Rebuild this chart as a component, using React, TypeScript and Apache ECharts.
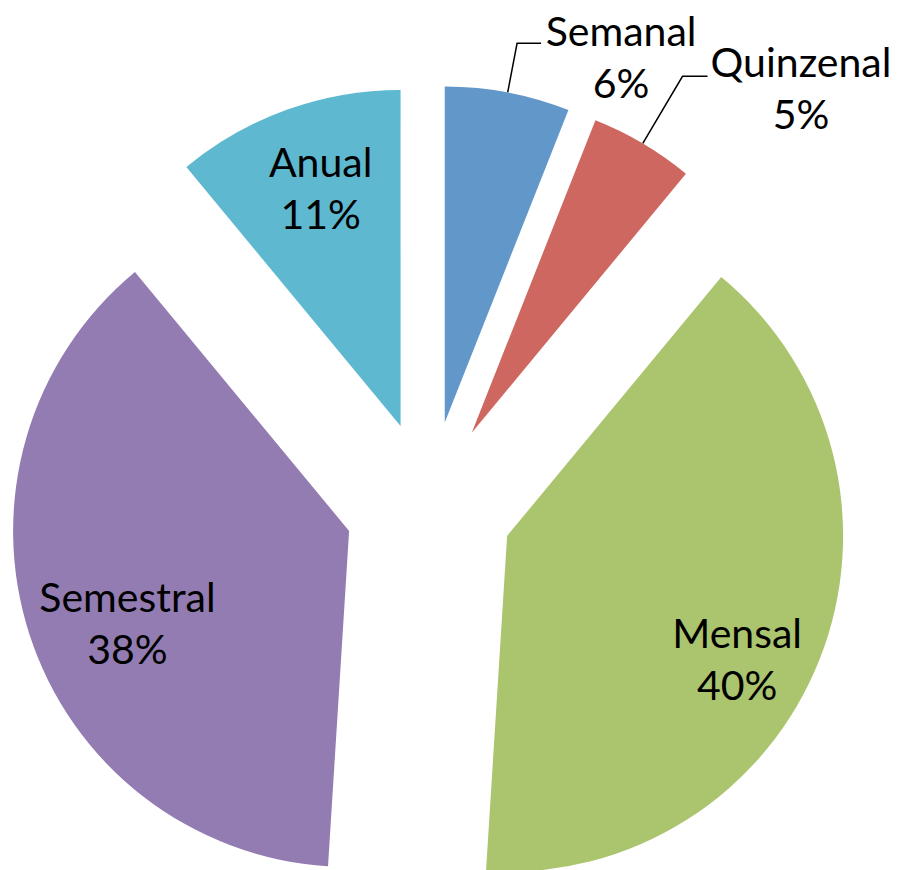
import React, { useEffect, useRef } from "react";
import * as echarts from "echarts";

const categories = ["Semanal", "Quinzenal", "Mensal", "Semestral", "Anual"];
const values = [6, 5, 40, 38, 11];
const colors = ["#6297CA", "#CD6760", "#ABC46E", "#937CB2", "#5DB8D0"];

const FONT = "Lato, 'Open Sans', sans-serif";
const FONT_SIZE = 41;
const LINE_H = 52;

export default function App() {
  const ref = useRef<HTMLDivElement>(null);
  useEffect(() => {
    const chart = echarts.init(ref.current!, null, { renderer: "svg" });
    const outside = [true, true, false, false, false];
    const outsideWidth = [150, 177, 0, 0, 0];
    const lineLen = [[50, 24], [78, 25], [0, 0], [0, 0], [0, 0]];
    const padTop = [26, 22, 0, 0, 0];
    const innerShift = [[0, 0], [0, 0], [71, 60], [-59, 39], [-22, -78]];

    const data = categories.map((name, i) => ({
      name,
      value: values[i],
      selected: true,
      itemStyle: { color: colors[i], borderWidth: 0 },
      label: outside[i]
        ? {
            show: true,
            position: "outside",
            formatter: "{a|{b}}\n{a|{c}%}",
            padding: [padTop[i], 0, 0, 0],
            rich: {
              a: {
                width: outsideWidth[i],
                align: "center",
                fontSize: FONT_SIZE,
                lineHeight: LINE_H,
                fontFamily: FONT,
                color: "#000",
              },
            },
          }
        : {
            show: true,
            position: "inside",
            formatter: "{b}\n{c}%",
            fontSize: FONT_SIZE,
            lineHeight: LINE_H,
            fontFamily: FONT,
            color: "#000",
            align: "center",
          },
      labelLine: outside[i]
        ? {
            show: true,
            length: lineLen[i][0],
            length2: lineLen[i][1],
            lineStyle: { color: "#000", width: 1.5 },
          }
        : { show: false },
    }));

    chart.setOption({
      animation: false,
      backgroundColor: "#fff",
      series: [
        {
          type: "pie",
          center: [429, 505],
          radius: 336,
          startAngle: 90,
          clockwise: true,
          selectedMode: "multiple",
          selectedOffset: 84,
          avoidLabelOverlap: false,
          emphasis: { disabled: true },
          select: { itemStyle: { borderWidth: 0 } },
          labelLayout: (params: any) => {
            const s = innerShift[params.dataIndex];
            if (outside[params.dataIndex]) return {};
            return { dx: s[0], dy: s[1] };
          },
          data,
        },
      ],
    });
    return () => chart.dispose();
  }, []);
  return (
    <div
      ref={ref}
      style={{ position: "absolute", left: 0, top: 0, width: 900, height: 870 }}
    />
  );
}
